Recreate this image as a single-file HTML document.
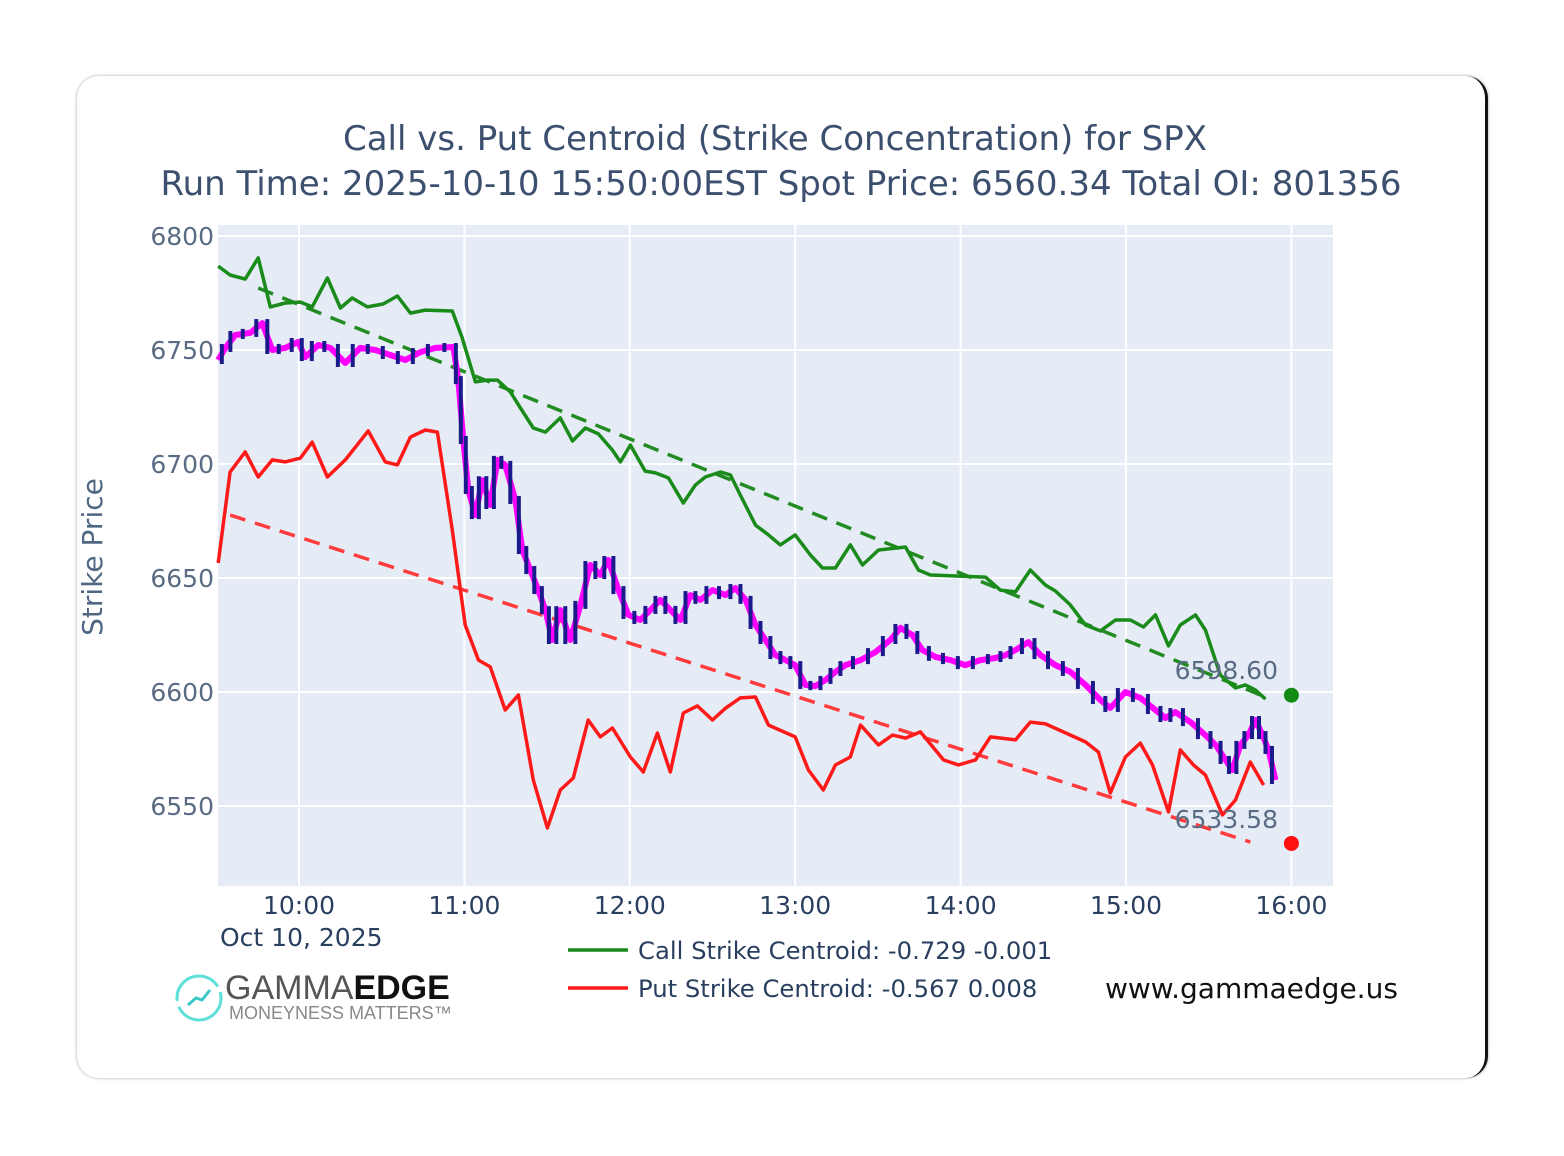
<!DOCTYPE html>
<html><head><meta charset="utf-8"><style>
html,body{margin:0;padding:0;background:#fff;}
body{width:1564px;height:1156px;position:relative;overflow:hidden;font-family:"Liberation Sans","DejaVu Sans",sans-serif;}
#card{position:absolute;left:77px;top:76px;width:1408px;height:1002px;background:#fff;border-radius:22px;box-shadow:0 0 3px rgba(0,0,0,0.35);border-right:3px solid #111;}
svg{position:absolute;left:0;top:0;}
</style></head><body>
<div id="card"></div>
<svg id="chart" width="1564" height="1156" font-family="DejaVu Sans, Liberation Sans, sans-serif"></svg>
<script>
// minutes since 9:30 and strike values
const callT=[0.7,5,10.5,15.2,19.6,25,30.5,34.8,40.3,45,49.3,54.8,60.6,65.7,70.4,75.8,85.6,89.2,94,98.3,102,106.7,110.3,115,119.4,124.8,129.2,133.9,138.6,143.7,146.6,150.2,155.6,159.3,164,169.4,173.8,177.4,182.9,186.5,190.1,195.6,200.3,204.6,210,215.5,219.9,224.6,230,234.4,240.2,250,254.7,259,279,284.4,289.9,295.3,300.8,304.4,309.8,315.3,320.7,326.2,331.6,336.3,340.7,345.4,349.7,355.2,358.8,364.2,369.7,373.3,376.9,380.6];
const callV=[6786.8,6782.9,6781.1,6790.4,6768.9,6770.6,6771,6768.9,6781.6,6768.4,6772.8,6768.9,6770.2,6773.7,6766.2,6767.5,6767.1,6755.3,6736,6736.8,6736.8,6731.6,6724.6,6715.8,6714,6720.2,6710.1,6715.8,6713.2,6706.1,6700.9,6708.3,6696.9,6696.1,6693.9,6682.9,6690.8,6694.3,6696.5,6695.2,6686.4,6673.2,6668.9,6664.5,6668.9,6660.1,6654.4,6654.4,6664.5,6655.7,6662.3,6663.6,6653.5,6651.3,6650.4,6644.7,6643.9,6653.5,6646.9,6644.3,6638.2,6629.4,6626.8,6631.6,6631.6,6628.5,6633.8,6620.2,6629.4,6633.8,6627.2,6607.5,6601.8,6603.1,6600.9,6596.9];
const putT=[0.7,5,10.5,15.2,20.3,25,30.5,34.8,40.3,46.8,55.1,61.3,65.7,70.4,75.8,80.2,85.6,90.3,95.1,99.4,104.8,109.6,115,120.1,124.8,129.5,134.9,139.3,143.7,150.2,154.9,160,164.7,169.4,174.5,180,184.7,190.1,195.6,200.3,210,214.8,220.2,224.6,230,233.7,240.2,245.3,250,255.4,263.8,269.2,275.4,280.8,289.9,295.3,300.8,315.3,320,324.3,329.8,335.2,339.6,345.4,349.7,354.5,358.8,365,369.7,375.1,379.9];
const putV=[6656.6,6696.5,6705.3,6694.3,6701.8,6700.9,6702.6,6709.6,6694.3,6701.8,6714.5,6700.9,6699.6,6711.8,6714.9,6714,6671,6629.4,6614,6611,6592.1,6598.7,6561.4,6540.4,6557,6562.3,6587.7,6580.3,6584.2,6571.5,6564.9,6582,6564.9,6590.8,6593.9,6587.7,6592.9,6597.4,6597.8,6585.5,6580.3,6565.8,6557,6568,6571.5,6585.5,6576.8,6581.1,6579.8,6582.5,6570.2,6568,6570.2,6580.3,6579,6586.8,6586,6578.1,6573.7,6555.7,6571.5,6577.6,6568,6547.4,6574.6,6568,6563.6,6546.1,6552.6,6569.3,6559.2];
const spotT=[0.7,3.3,6.9,12.3,16.7,20.3,25,29.7,32.3,37,41.4,46.8,52.2,57.7,63.1,68.6,74,79.5,86,87.8,89.6,91.4,94,96.5,99.4,102,104.8,108.5,111,113.9,116.8,119.4,121.9,124.8,128.4,132.1,135.7,139.3,142.2,145.9,149.5,153.8,157.5,161.1,164.7,168.4,172,175.6,180,184.7,188.3,192,195.6,199.2,202.8,206.5,210,213.7,217.3,221,224.6,228.2,233.7,239.1,244.5,248.2,252.5,256.1,260.9,266.3,271.7,277.2,282.6,286.3,289.9,294.6,299,304.4,309.8,315.3,320.7,324.3,329.8,335.2,340.7,344.3,347.9,353.4,358.8,362.5,366.1,368.6,371.5,374.4,377,379.5,381.7,384.2];
const spotV=[6745.6,6750.9,6756.6,6757.5,6761.8,6750,6750.9,6753.5,6746.9,6752.2,6750.9,6744.3,6750.9,6750,6747.8,6745.6,6749.1,6750.9,6751.3,6736.8,6710.5,6688.6,6677.6,6692.9,6682,6701.8,6699.6,6684.2,6662.3,6653.5,6644.7,6635.9,6622.8,6635.9,6622.8,6638.2,6655.7,6651.3,6657.9,6644.7,6633.8,6631.6,6636,6640.4,6636,6631.6,6642.5,6640.4,6644.7,6642.5,6645.6,6640.4,6629.4,6622.8,6616.2,6614,6611.8,6603.1,6602.6,6605.3,6608.8,6611.8,6614,6617.5,6622.8,6628.1,6625,6618.4,6615.4,6614,6611.8,6614,6614.9,6616.2,6618.4,6621.9,6616.2,6611.8,6608.8,6603.1,6596.5,6593,6600,6597.4,6592.1,6588.6,6591.2,6586.8,6581.1,6576.8,6570.2,6565.8,6576.8,6581.1,6587.7,6581.1,6574.6,6561.4];
const callTrend=[[15.2,6777.2],[380.6,6597.8]];
const putTrend=[[5,6677.6],[375.1,6534.2]];
const endT=390;
const callEnd=6598.60, putEnd=6533.58;
const yTicks=[6550,6600,6650,6700,6750,6800];
const xTicks=["10:00","11:00","12:00","13:00","14:00","15:00","16:00"];
const xTickMin=[30,90,150,210,270,330,390];

const NS="http://www.w3.org/2000/svg";
const svg=document.getElementById('chart');
const PL=218,PR=1333,PT=225,PB=886;
const X=t=>216.3+t*165.4/60;
const Y=v=>236+(6800-v)*2.28;
function mk(tag,attrs,parent){const e=document.createElementNS(NS,tag);for(const k in attrs)e.setAttribute(k,attrs[k]);(parent||svg).appendChild(e);return e;}
function txt(s,attrs){const e=mk('text',attrs);e.textContent=s;return e;}

const bg=mk('rect',{x:PL,y:PT,width:PR-PL,height:PB-PT,fill:'#e5ecf6'});



yTicks.forEach(v=>{
  const l=mk('line',{x1:PL,x2:PR,y1:Y(v),y2:Y(v),stroke:'#fff','stroke-width':2});
  
  
  const t=txt(String(v),{x:214,y:Y(v)+9,'text-anchor':'end','font-size':25,fill:'#5a6b84'});
  
  
});
xTicks.forEach((s,i)=>{
  const x=X(xTickMin[i]);
  const l=mk('line',{x1:x,x2:x,y1:PT,y2:PB,stroke:'#fff','stroke-width':2});
  
  
  const t=txt(s,{x:x,y:914,'text-anchor':'middle','font-size':25,fill:'#2a3f5f'});
  
  
});

function pts(T,V){return T.map((t,i)=>X(t).toFixed(1)+','+Y(V[i]).toFixed(1)).join(' ');}
const ct=mk('line',{x1:X(callTrend[0][0]),y1:Y(callTrend[0][1]),x2:X(callTrend[1][0]),y2:Y(callTrend[1][1]),stroke:'#228b22','stroke-width':3.5,'stroke-dasharray':'16,10'});


const pt=mk('line',{x1:X(putTrend[0][0]),y1:Y(putTrend[0][1]),x2:X(putTrend[1][0]),y2:Y(putTrend[1][1]),stroke:'#ff3b3b','stroke-width':3.5,'stroke-dasharray':'16,10'});



const cl=mk('polyline',{points:pts(callT,callV),fill:'none',stroke:'#1a8a1a','stroke-width':3.5,'stroke-linejoin':'round'});


const pl=mk('polyline',{points:pts(putT,putV),fill:'none',stroke:'#ff1a1a','stroke-width':3.5,'stroke-linejoin':'round'});



const sl=mk('polyline',{points:pts(spotT,spotV),fill:'none',stroke:'#ff00ff','stroke-width':6,'stroke-linejoin':'round'});


for(let i=1;i<spotT.length;i++){
  const xm=(X(spotT[i])+X(spotT[i-1]))/2;
  const a=Y(spotV[i-1]),b=Y(spotV[i]);
  const lo=Math.min(a,b),hi=Math.max(a,b);
  const c=mk('line',{x1:xm,x2:xm,y1:lo-4,y2:hi+4,stroke:'#1a1a8c','stroke-width':4});
  
  
}

const t1=txt(callEnd.toFixed(2),{x:1278,y:679,'text-anchor':'end','font-size':25,fill:'#5a6b84'});


const t2=txt(putEnd.toFixed(2),{x:1278,y:828,'text-anchor':'end','font-size':25,fill:'#5a6b84'});


const d1=mk('circle',{cx:X(endT),cy:Y(callEnd),r:7.5,fill:'#138a13'});


const d2=mk('circle',{cx:X(endT),cy:Y(putEnd),r:7.5,fill:'#ff1010'});


</script>
<svg width="1564" height="1156" style="pointer-events:none" font-family="DejaVu Sans, Liberation Sans, sans-serif">
<text x="775" y="150" text-anchor="middle" font-size="34" fill="#3c4f6e">Call vs. Put Centroid (Strike Concentration) for SPX</text>
<text x="781" y="195" text-anchor="middle" font-size="34" fill="#3c4f6e">Run Time: 2025-10-10 15:50:00EST Spot Price: 6560.34 Total OI: 801356</text>
<text transform="translate(102,557) rotate(-90)" text-anchor="middle" font-size="28" fill="#506784">Strike Price</text>
<text x="220" y="946" font-size="25" fill="#2a3f5f">Oct 10, 2025</text>
<g>
<line x1="568" x2="628" y1="950" y2="950" stroke="#1a8a1a" stroke-width="3.5"/>
<text x="638" y="959" font-size="24.3" fill="#2a3f5f">Call Strike Centroid: -0.729 -0.001</text>
<line x1="568" x2="628" y1="988" y2="988" stroke="#ff1a1a" stroke-width="3.5"/>
<text x="638" y="997" font-size="24.3" fill="#2a3f5f">Put Strike Centroid: -0.567 0.008</text>
</g>
<text x="1105" y="998" font-size="28" fill="#111">www.gammaedge.us</text>
<g>
<circle cx="199" cy="998" r="22" fill="none" stroke="#5fe0d8" stroke-width="3" stroke-dasharray="60,6"/>
<polyline points="188,1005 196,998 202,1000 210,990" fill="none" stroke="#3dc8c8" stroke-width="3"/>
<text x="225" y="999" font-size="34" fill="#555" font-family="Liberation Sans, sans-serif">GAMMA<tspan font-weight="bold" fill="#111">EDGE</tspan></text>
<text x="229" y="1019" font-size="18" fill="#888" font-family="Liberation Sans, sans-serif">MONEYNESS MATTERS™</text>
</g>
</svg>
</body></html>
